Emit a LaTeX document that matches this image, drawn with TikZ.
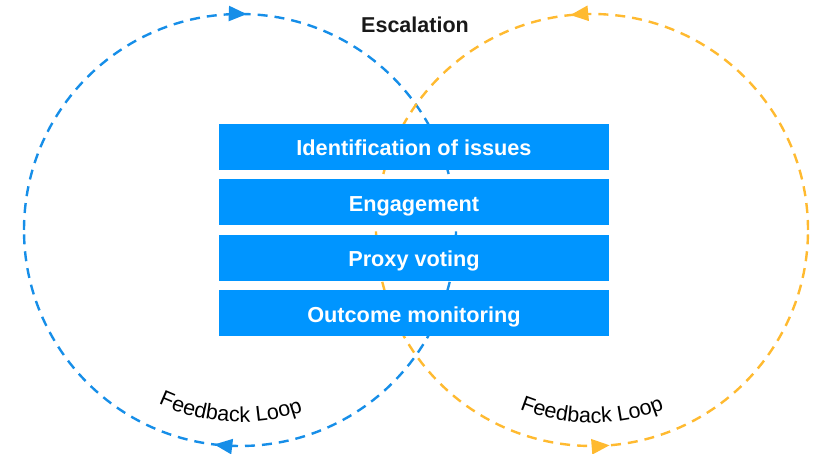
\documentclass[tikz,border=0pt]{standalone}
\usepackage{fontspec}
\setmainfont{Liberation Sans}
\usetikzlibrary{arrows.meta,positioning,calc,decorations.markings,decorations.text}
\definecolor{stageblue}{RGB}{0,149,255}
\definecolor{loopblue}{RGB}{22,142,232}
\definecolor{looporange}{RGB}{255,186,48}

\begin{document}
\begin{tikzpicture}[x=1pt, y=1pt,
  stage/.style={fill=stageblue, text=white, minimum width=390pt,
    minimum height=46pt, inner sep=0pt, text height=18pt, text depth=0pt,
    font=\bfseries\fontsize{21.7}{26}\selectfont},
  loopline/.style={line width=2.4pt, dash pattern=on 10pt off 7pt},
  title/.style={font=\bfseries\fontsize{21.5}{25}\selectfont, text=black!90},
]
  \useasboundingbox (0,0) rectangle (816,454);

  % --- centres of the two loops ---------------------------------------
  \coordinate (lcen) at (240,224);
  \coordinate (rcen) at (592,224);

  % --- blue loop, clockwise -------------------------------------------
  \draw[loopline, loopblue, postaction={decorate}, decoration={markings,
      mark=at position 0.255 with {\arrow{Triangle[length=18pt, width=15pt]}},
      mark=at position 0.769 with {\arrow{Triangle[length=18pt, width=15pt]}}}]
    ($(lcen)+(180:216)$) arc[start angle=180, delta angle=-360, radius=216];

  % --- orange loop, counter-clockwise ---------------------------------
  \draw[loopline, looporange, postaction={decorate}, decoration={markings,
      mark=at position 0.266 with {\arrow{Triangle[length=18pt, width=15pt]}},
      mark=at position 0.763 with {\arrow{Triangle[length=18pt, width=15pt]}}}]
    ($(rcen)+(0:216)$) arc[start angle=0, delta angle=360, radius=216];

  % --- stages ---------------------------------------------------------
  \node[stage] (ident) at (414,307) {Identification of issues};
  \node[stage, below=9pt of ident] (engage) {Engagement};
  \node[stage, below=9pt of engage] (proxy) {Proxy voting};
  \node[stage, below=9pt of proxy] (outcome) {Outcome monitoring};

  % --- labels ---------------------------------------------------------
  \node[title] (escal) at (415,429) {Escalation};

  \path[decorate, decoration={text along path, text align=center,
      text={|\fontsize{21.5}{25}\selectfont|Feedback Loop}}]
    ($(lcen)+(222:192)$) arc[start angle=222, end angle=312, radius=192];
  \path[decorate, decoration={text along path, text align=center,
      text={|\fontsize{21.5}{25}\selectfont|Feedback Loop}}]
    ($(rcen)+(225:193)$) arc[start angle=225, end angle=315, radius=193];
\end{tikzpicture}
\end{document}
